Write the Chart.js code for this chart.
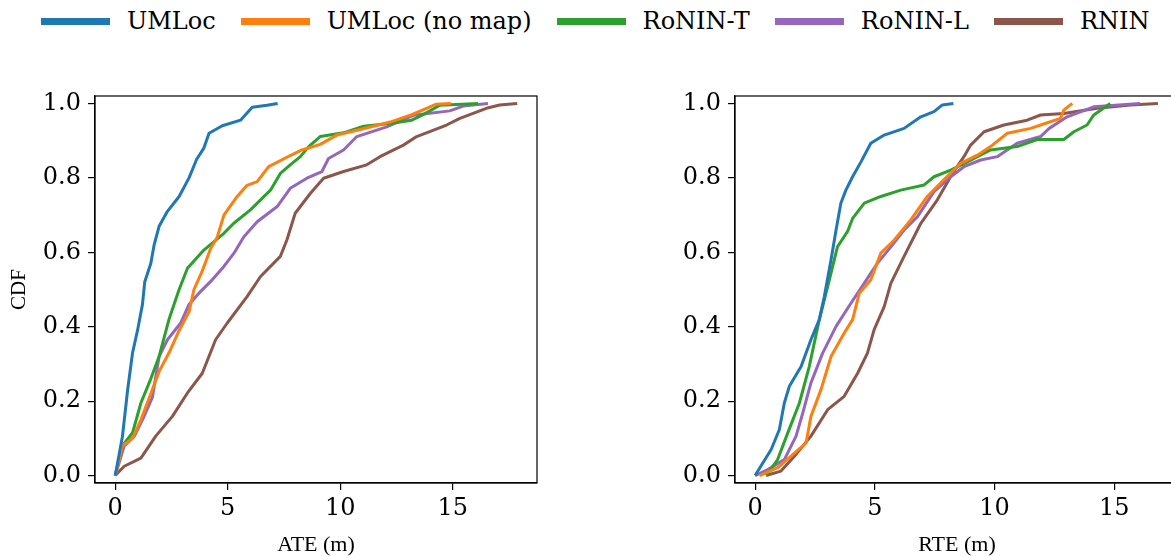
<!DOCTYPE html>
<html>
<head>
<meta charset="utf-8">
<script src="https://cdn.jsdelivr.net/npm/chart.js@4/dist/chart.umd.min.js"></script>
<style>
  html, body { margin: 0; padding: 0; background: #fff; overflow: hidden; }
  body { width: 1171px; height: 556px; position: relative; }
  #legend { position: absolute; left: 41px; top: 7px; display: flex; align-items: center;
            font-family: "DejaVu Serif", serif; font-size: 24px; color: #000; white-space: nowrap; }
  #legend .item { display: flex; align-items: center; margin-right: 25px; }
  #legend .swatch { width: 69px; height: 7px; margin-right: 17px; }
  #left { position: absolute; left: 0; top: 0; }
  #right { position: absolute; left: 640px; top: 0; }
</style>
</head>
<body>
<div id="legend"></div>
<canvas id="left" width="560" height="556"></canvas>
<canvas id="right" width="545" height="556"></canvas>
<script>
// series names and colours
const seriesNames = ['UMLoc', 'UMLoc (no map)', 'RoNIN-T', 'RoNIN-L', 'RNIN'];
const seriesColors = ['#1f77b4', '#ff7f0e', '#2ca02c', '#9467bd', '#8c564b'];

const xTicks = [0, 5, 10, 15];
const yTicks = [0, 0.2, 0.4, 0.6, 0.8, 1.0];

// ATE curves, [error (m), CDF]
const ateUMLoc = [[0,0],[0.32,0.105],[0.55,0.23],[0.77,0.33],[0.99,0.39],[1.21,0.46],[1.31,0.52],[1.58,0.57],[1.73,0.62],[1.95,0.67],[2.32,0.71],[2.84,0.75],[3.28,0.80],[3.62,0.85],[3.94,0.88],[4.17,0.92],[4.76,0.94],[5.57,0.955],[6.09,0.99],[6.75,0.995],[7.22,1.0]];
const ateNoMap = [[0,0],[0.32,0.08],[0.77,0.10],[1.14,0.15],[1.58,0.22],[1.95,0.28],[2.39,0.33],[2.84,0.39],[3.28,0.44],[3.50,0.50],[3.87,0.55],[4.24,0.61],[4.53,0.64],[4.83,0.70],[5.42,0.75],[5.86,0.78],[6.31,0.79],[6.82,0.83],[7.78,0.86],[8.30,0.875],[9.11,0.89],[9.85,0.915],[10.89,0.93],[12.22,0.95],[13.18,0.97],[14.28,0.998],[14.92,1.0]];
const ateRoninT = [[0,0],[0.32,0.08],[0.77,0.115],[1.14,0.195],[1.58,0.26],[1.95,0.32],[2.39,0.42],[2.84,0.50],[3.21,0.557],[3.94,0.606],[4.83,0.651],[5.27,0.678],[6.01,0.714],[6.90,0.767],[7.34,0.812],[7.78,0.835],[8.23,0.857],[8.60,0.884],[9.11,0.911],[10.15,0.921],[11.04,0.939],[12.22,0.946],[13.18,0.955],[13.69,0.97],[14.43,0.995],[16.13,1.0]];
const ateRoninL = [[0,0],[0.40,0.08],[0.84,0.105],[1.29,0.16],[1.65,0.21],[1.95,0.32],[2.32,0.365],[2.91,0.41],[3.28,0.46],[3.80,0.495],[4.31,0.526],[4.83,0.562],[5.27,0.597],[5.72,0.642],[6.31,0.682],[7.20,0.723],[7.78,0.772],[8.52,0.799],[9.19,0.817],[9.48,0.852],[10.15,0.875],[10.74,0.911],[12.07,0.937],[13.25,0.968],[14.87,0.98],[15.47,0.993],[16.57,1.0]];
const ateRNIN = [[0,0],[0.40,0.025],[1.14,0.047],[1.80,0.106],[2.54,0.159],[3.21,0.222],[3.87,0.275],[4.46,0.365],[4.98,0.41],[5.86,0.481],[6.46,0.535],[7.34,0.589],[7.63,0.633],[8.0,0.705],[8.67,0.758],[9.26,0.799],[10.15,0.817],[11.18,0.835],[11.77,0.857],[12.81,0.888],[13.40,0.911],[14.73,0.942],[15.32,0.96],[16.50,0.987],[17.09,0.996],[17.87,1.0]];

// RTE curves, [error (m), CDF]
const rteUMLoc = [[0,0],[0.32,0.034],[0.67,0.07],[1.01,0.123],[1.22,0.195],[1.43,0.24],[1.92,0.293],[2.33,0.365],[2.68,0.419],[2.89,0.481],[3.17,0.58],[3.38,0.66],[3.58,0.732],[3.79,0.767],[4.07,0.803],[4.42,0.843],[4.83,0.893],[5.39,0.915],[6.22,0.933],[6.92,0.964],[7.47,0.978],[7.82,0.996],[8.28,1.0]];
const rteNoMap = [[0.18,0],[0.94,0.021],[1.5,0.052],[2.13,0.088],[2.33,0.159],[2.75,0.231],[3.17,0.32],[3.72,0.383],[4.07,0.419],[4.35,0.49],[4.83,0.526],[5.25,0.598],[5.81,0.633],[6.5,0.687],[7.19,0.75],[7.94,0.799],[8.58,0.839],[9.28,0.861],[9.83,0.884],[10.53,0.92],[11.5,0.933],[12.11,0.946],[12.75,0.96],[12.89,0.982],[13.24,1.0]];
const rteRoninT = [[0.46,0],[0.94,0.043],[1.36,0.114],[1.85,0.195],[2.26,0.293],[2.68,0.419],[3.03,0.508],[3.44,0.615],[3.86,0.656],[4.07,0.691],[4.56,0.732],[5.25,0.75],[6.08,0.767],[7.06,0.781],[7.47,0.803],[8.17,0.821],[8.86,0.843],[9.83,0.875],[10.94,0.884],[11.78,0.903],[12.89,0.903],[13.31,0.924],[13.86,0.942],[14.14,0.969],[14.83,1.0]];
const rteRoninL = [[0,0],[0.53,0.016],[1.22,0.043],[1.71,0.106],[1.99,0.168],[2.33,0.249],[2.82,0.329],[3.38,0.401],[4.0,0.463],[4.56,0.517],[5.11,0.571],[5.67,0.615],[6.22,0.66],[6.78,0.696],[7.47,0.763],[8.17,0.803],[8.72,0.83],[9.42,0.848],[10.11,0.857],[10.94,0.893],[11.92,0.911],[12.28,0.933],[13.03,0.964],[14.14,0.991],[16.08,1.0]];
const rteRNIN = [[0.46,0],[1.08,0.012],[1.64,0.052],[2.33,0.106],[3.03,0.177],[3.72,0.213],[4.28,0.275],[4.69,0.329],[4.97,0.392],[5.39,0.454],[5.67,0.517],[6.22,0.589],[6.92,0.678],[7.61,0.741],[8.24,0.812],[8.72,0.857],[9.0,0.888],[9.56,0.924],[10.39,0.942],[11.36,0.955],[11.92,0.969],[12.89,0.973],[14.28,0.987],[15.67,0.996],[16.82,1.0]];

// legend
const legendEl = document.getElementById('legend');
seriesNames.forEach((name, i) => {
    const item = document.createElement('div');
    item.className = 'item';
    item.innerHTML = `<span class="swatch" style="background:${seriesColors[i]}"></span><span>${name}</span>`;
    legendEl.appendChild(item);
});

// matplotlib style box around the axes
const framePlugin = {
    id: 'frame',
    afterDraw(chart) {
        const a = chart.chartArea;
        const ctx = chart.ctx;
        ctx.save();
        ctx.strokeStyle = '#000';
        ctx.lineWidth = 1.2;
        ctx.strokeRect(a.left, a.top, a.right - a.left, a.bottom - a.top);
        ctx.restore();
    }
};

function makeChart(id, curves, xMin, xMax, xLabel, yLabel, padRight) {
    const datasets = curves.map((pts, i) => ({
        label: seriesNames[i],
        data: pts.map(p => ({ x: p[0], y: p[1] })),
        borderColor: seriesColors[i],
        backgroundColor: seriesColors[i],
        borderWidth: 3,
        borderJoinStyle: 'round',
        pointRadius: 0,
        tension: 0,
        fill: false
    }));

    const tickFont = { family: 'DejaVu Serif', size: 24 };
    const labelFont = { family: 'Liberation Serif', size: 22, lineHeight: 1 };

    return new Chart(document.getElementById(id), {
        type: 'line',
        data: { datasets },
        plugins: [framePlugin],
        options: {
            responsive: false,
            animation: false,
            layout: { padding: { top: 96, right: padRight, bottom: 0, left: 0 } },
            plugins: {
                legend: { display: false },
                tooltip: { enabled: false }
            },
            scales: {
                x: {
                    type: 'linear',
                    min: xMin,
                    max: xMax,
                    afterBuildTicks: s => { s.ticks = xTicks.map(v => ({ value: v })); },
                    afterFit: s => { s.height = 73; },
                    ticks: { font: tickFont, color: '#000', padding: 4, maxRotation: 0,
                             callback: v => String(v) },
                    grid: { display: true, drawOnChartArea: false, color: '#000', tickLength: 7, lineWidth: 1.2 },
                    border: { display: true, color: '#000', width: 1.2 },
                    title: { display: true, text: xLabel, font: labelFont, color: '#000', padding: { top: 0, bottom: 0 } }
                },
                y: {
                    type: 'linear',
                    min: -0.02,
                    max: 1.02,
                    afterBuildTicks: s => { s.ticks = yTicks.map(v => ({ value: v })); },
                    afterFit: s => { s.width = 95; },
                    ticks: { font: tickFont, color: '#000', padding: 7,
                             callback: v => v.toFixed(1) },
                    grid: { display: true, drawOnChartArea: false, color: '#000', tickLength: 7, lineWidth: 1.2 },
                    border: { display: true, color: '#000', width: 1.2 },
                    title: { display: !!yLabel, text: yLabel, font: { family: 'Liberation Serif', size: 21, lineHeight: 1.2 },
                             color: '#000', padding: { top: 7, bottom: 0 } }
                }
            }
        }
    });
}

makeChart('left', [ateUMLoc, ateNoMap, ateRoninT, ateRoninL, ateRNIN], -0.9, 18.75, 'ATE (m)', 'CDF', 23);
makeChart('right', [rteUMLoc, rteNoMap, rteRoninT, rteRoninL, rteRNIN], -0.84, 17.7, 'RTE (m)', '', 6);
</script>
</body>
</html>
